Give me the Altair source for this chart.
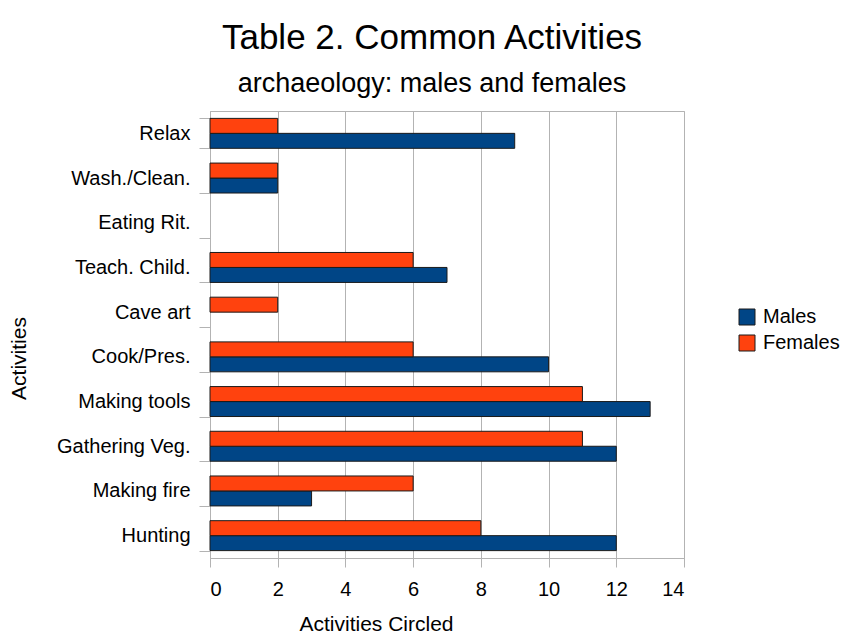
import altair as alt
import pandas as pd

activities = ["Relax", "Wash./Clean.", "Eating Rit.", "Teach. Child.", "Cave art",
              "Cook/Pres.", "Making tools", "Gathering Veg.", "Making fire", "Hunting\u00a0"]
males = [9, 2, 0, 7, 0, 10, 13, 12, 3, 12]
females = [2, 2, 0, 6, 2, 6, 11, 11, 6, 8]
series = ["Males", "Females"]
colors = ["#004586", "#ff420e"]
x_ticks = [0, 2, 4, 6, 8, 10, 12, 14]

rows = []
for a, m, f in zip(activities, males, females):
    rows.append({"Activity": a, "Sex": "Males", "Value": m})
    rows.append({"Activity": a, "Sex": "Females", "Value": f})
df = pd.DataFrame(rows)

FONT = "Liberation Sans"
GRAY = "#b3b3b3"

chart = alt.Chart(df).transform_filter("datum.Value > 0").mark_bar(
    stroke="#1a1a1a", strokeWidth=1
).encode(
    x=alt.X("Value:Q",
            scale=alt.Scale(domain=[0, 14], nice=False),
            axis=alt.Axis(values=x_ticks, title="Activities Circled", grid=True,
                          gridColor=GRAY, domainColor=GRAY, tickColor=GRAY,
                          tickSize=9, labelPadding=12, labelFontSize=20,
                          titleFontSize=21, titleFontWeight="normal",
                          titleX=166, titlePadding=14, labelColor="#000", titleColor="#000")),
    y=alt.Y("Activity:N", sort=activities,
            scale=alt.Scale(domain=activities, paddingInner=0.33, paddingOuter=0.165),
            axis=alt.Axis(title="Activities", tickBand="extent", grid=False,
                          domainColor=GRAY, tickColor=GRAY, tickSize=11,
                          labelPadding=9, labelFontSize=20, titleFontSize=21,
                          titleFontWeight="normal", titleY=247, titlePadding=27,
                          labelColor="#000", titleColor="#000")),
    yOffset=alt.YOffset("Sex:N", scale=alt.Scale(domain=["Females", "Males"])),
    color=alt.Color("Sex:N",
                    scale=alt.Scale(domain=series, range=colors),
                    legend=alt.Legend(title=None, orient="none", legendX=527, legendY=196,
                                      symbolType="square", symbolSize=256,
                                      symbolStrokeColor="#1a1a1a", symbolStrokeWidth=1,
                                      labelFontSize=20, labelColor="#000",
                                      rowPadding=6, labelOffset=6)),
).properties(
    width=474,
    height=447,
    title=alt.Title("Table 2. Common Activities",
                    subtitle="archaeology: males and females",
                    fontSize=35, subtitleFontSize=27, fontWeight="normal",
                    color="#000", subtitleColor="#000",
                    anchor="middle", dx=-15, offset=4, subtitlePadding=15),
    autosize=alt.AutoSizeParams(type="none"),
    padding={"left": 210, "top": 111, "right": 157, "bottom": 81},
).configure(
    font=FONT,
).configure_view(
    stroke=GRAY,
)

chart.save("out.html", embed_options={"renderer": "svg", "actions": False})
